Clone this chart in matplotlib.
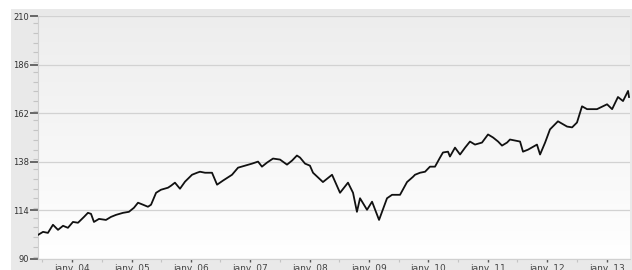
import matplotlib
matplotlib.use("Agg")
import matplotlib.pyplot as plt
import matplotlib.dates as mdates
from matplotlib.ticker import MultipleLocator, FuncFormatter
import numpy as np
import pandas as pd

dates = ["2003-06-06", "2003-07-07", "2003-08-06", "2003-09-06", "2003-10-07", "2003-11-07",
         "2003-12-07", "2004-01-07", "2004-02-07", "2004-03-15", "2004-04-08", "2004-04-27",
         "2004-05-15", "2004-06-15", "2004-07-28", "2004-08-28", "2004-09-28", "2004-11-10",
         "2004-12-16", "2005-01-16", "2005-02-10", "2005-03-13", "2005-04-12", "2005-05-01",
         "2005-06-01", "2005-07-01", "2005-08-13", "2005-09-01", "2005-09-25", "2005-10-26",
         "2005-11-26", "2006-01-08", "2006-02-08", "2006-02-26", "2006-03-29", "2006-05-11",
         "2006-06-11", "2006-07-17", "2006-09-11", "2006-10-18", "2006-11-30", "2007-01-12",
         "2007-02-18", "2007-03-14", "2007-04-14", "2007-05-21", "2007-07-03", "2007-08-15",
         "2007-09-15", "2007-10-15", "2007-11-03", "2007-12-04", "2008-01-03", "2008-01-22",
         "2008-03-23", "2008-05-18", "2008-07-06", "2008-08-24", "2008-09-24", "2008-10-18",
         "2008-11-06", "2008-12-19", "2009-01-19", "2009-03-03", "2009-04-21", "2009-05-22",
         "2009-07-10", "2009-08-22", "2009-09-28", "2009-10-10", "2009-11-10", "2009-12-11",
         "2010-01-10", "2010-02-10", "2010-03-13", "2010-03-31", "2010-05-01", "2010-05-13",
         "2010-06-13", "2010-07-14", "2010-08-14", "2010-09-13", "2010-10-14", "2010-11-26",
         "2011-01-02", "2011-02-02", "2011-03-05", "2011-03-29", "2011-04-29", "2011-05-17",
         "2011-07-18", "2011-08-05", "2011-09-05", "2011-10-30", "2011-11-18", "2011-12-19",
         "2012-01-18", "2012-03-07", "2012-05-02", "2012-06-02", "2012-07-02", "2012-08-02",
         "2012-09-02", "2012-11-02", "2013-01-03", "2013-02-03", "2013-03-11", "2013-04-11",
         "2013-05-12", "2013-05-18"]

values = [101.9, 103.4, 102.9, 106.9, 104.4, 106.4,
          105.4, 108.3, 107.9, 110.8, 112.8, 112.3,
          108.3, 109.8, 109.3, 110.8, 111.8, 112.8,
          113.3, 115.3, 117.8, 116.8, 115.8, 116.8,
          122.7, 124.2, 125.2, 126.2, 127.7, 124.7,
          128.2, 131.6, 132.6, 133.1, 132.6, 132.6,
          126.7, 128.7, 131.6, 135.1, 136.1, 137.1,
          138.1, 135.6, 137.6, 139.6, 139.1, 136.6,
          138.6, 141.1, 140.1, 137.1, 136.1, 132.6,
          128.0, 131.6, 122.7, 127.7, 122.7, 113.3,
          120.0, 114.3, 118.3, 109.3, 120.0, 121.7,
          121.7, 128.0, 130.6, 131.6, 132.6, 133.1,
          135.6, 135.6, 140.1, 142.6, 143.0, 140.6,
          145.0, 141.6, 145.0, 148.0, 146.5, 147.5,
          151.5, 150.0, 148.0, 146.0, 147.5, 149.0,
          148.0, 143.0, 144.0, 146.5, 141.6, 147.5,
          154.0, 158.0, 155.4, 155.0, 157.4, 165.4,
          164.0, 164.0, 166.4, 164.0, 170.0, 168.0,
          173.0, 170.0]

y_ticks = [90, 114, 138, 162, 186, 210]
x_start, x_end = "2003-06-06", "2013-05-24"

W, H = 632, 270
fig = plt.figure(figsize=(W / 100, H / 100), dpi=100)
fig.patch.set_facecolor("white")

# gray panel behind the chart
bg = fig.add_axes([11 / W, 0, 1 - 11 / W, 1 - 9 / H], zorder=0)
bg.set_facecolor("#e9e9e9")
bg.set_xticks([])
bg.set_yticks([])
for s in bg.spines.values():
    s.set_visible(False)

ax = fig.add_axes([38 / W, 11 / H, (630 - 38) / W, (259 - 16) / H], zorder=1)
ax.set_facecolor("none")

x = pd.to_datetime(dates)
grad = np.linspace(0.93, 1.0, 256).reshape(-1, 1)
ax.imshow(np.dstack([grad, grad, grad]), extent=[0, 1, 0, 1], transform=ax.transAxes,
          aspect="auto", zorder=0, origin="upper")

ax.plot(x, values, color="#111111", lw=1.3, zorder=3, solid_joinstyle="round")

ax.set_xlim(pd.Timestamp(x_start), pd.Timestamp(x_end))
ax.set_ylim(y_ticks[0], y_ticks[-1])
ax.set_yticks(y_ticks)
ax.yaxis.set_minor_locator(MultipleLocator(4.8))
ax.grid(axis="y", which="major", color="#d2d2d2", lw=0.9, zorder=1)

ax.xaxis.set_major_locator(mdates.YearLocator())
ax.xaxis.set_minor_locator(mdates.MonthLocator(bymonth=7))
ax.xaxis.set_major_formatter(FuncFormatter(
    lambda v, p: "janv. " + mdates.num2date(v).strftime("%y")))

ax.tick_params(axis="y", which="major", direction="out", length=5.5, width=1.1,
               color="#444444", labelsize=6, labelcolor="#333333", pad=1)
ax.tick_params(axis="y", which="minor", direction="out", length=3.5, width=0.8,
               color="#c4c4c4")
ax.tick_params(axis="x", which="major", direction="out", length=2.5, width=1.0,
               color="#555555", labelsize=6.5, labelcolor="#444444", pad=1)
ax.tick_params(axis="x", which="minor", direction="out", length=2, width=0.8,
               color="#c4c4c4")

for s in ["top", "right"]:
    ax.spines[s].set_visible(False)
for s in ["left", "bottom"]:
    ax.spines[s].set_color("#d0d0d0")
    ax.spines[s].set_linewidth(0.8)

fig.savefig("out.png", dpi=100)
